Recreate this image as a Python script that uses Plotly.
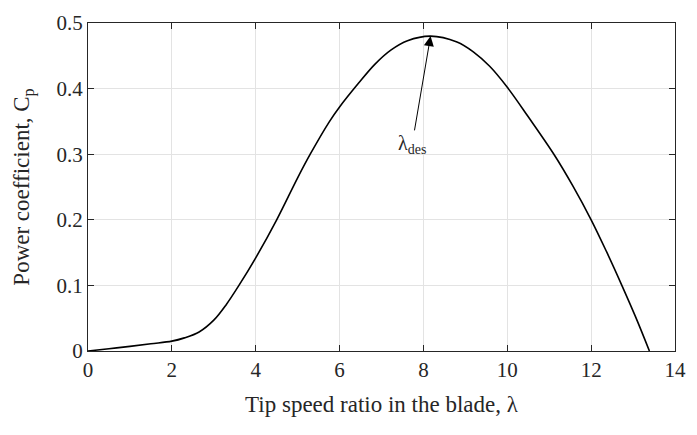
import plotly.graph_objects as go

tsr = [0, 0.5, 1.0, 1.5, 2.0, 2.3, 2.65, 3.0, 3.3, 3.6, 4.0, 4.5, 5.0, 5.3, 5.75, 6.0,
       6.45, 6.84, 7.23, 7.62, 8.17, 8.8, 9.19, 9.58, 10.0, 10.5, 11.13,
       11.56, 12.0, 12.37, 12.74, 13.06, 13.39]
cp = [0, 0.0035, 0.007, 0.011, 0.015, 0.02, 0.029, 0.047, 0.071, 0.1, 0.142, 0.2, 0.264,
      0.3, 0.349, 0.372, 0.408, 0.437, 0.459, 0.473, 0.48, 0.471, 0.456,
      0.434, 0.402, 0.357, 0.298, 0.252, 0.2, 0.151, 0.099, 0.052, 0]

x_ticks = [0, 2, 4, 6, 8, 10, 12, 14]
y_ticks = [0, 0.1, 0.2, 0.3, 0.4, 0.5]
y_labels = ["0", "0.1", "0.2", "0.3", "0.4", "0.5"]

peak = (8.17, 0.48)
label_pos = (7.73, 0.315)

FONT = "Liberation Serif, Times New Roman, serif"
AX = "#262626"

fig = go.Figure()
fig.add_trace(go.Scatter(x=tsr, y=cp, mode="lines",
                         line=dict(color="black", width=1.6, shape="spline", smoothing=1.0),
                         showlegend=False, hoverinfo="skip"))

fig.add_annotation(x=peak[0], y=peak[1], ax=label_pos[0], ay=label_pos[1],
                   xref="x", yref="y", axref="x", ayref="y",
                   text="λ<sub>des</sub>", font=dict(family=FONT, size=20, color=AX),
                   showarrow=True, arrowhead=2, arrowsize=2, arrowwidth=1,
                   arrowcolor="black", standoff=0, startstandoff=0)

axis_common = dict(showline=True, linecolor=AX, linewidth=1, mirror="ticks",
                   ticks="inside", ticklen=6, tickcolor=AX, showgrid=True,
                   gridcolor="#e3e3e3", gridwidth=1, zeroline=False,
                   tickfont=dict(family=FONT, size=21, color=AX))

fig.update_xaxes(range=[0, 14], tickvals=x_ticks,
                 title=dict(text="Tip speed ratio in the blade, λ", standoff=14,
                            font=dict(family=FONT, size=23, color=AX)),
                 **axis_common)
fig.update_yaxes(range=[0, 0.5], tickvals=y_ticks, ticktext=y_labels,
                 title=dict(text="Power coefficient, C<sub>p</sub>", standoff=20,
                            font=dict(family=FONT, size=23, color=AX)),
                 **axis_common)

fig.update_layout(width=697, height=435, margin=dict(l=88, r=11, t=16, b=84),
                  paper_bgcolor="white", plot_bgcolor="white")

fig.write_html("out.html")
